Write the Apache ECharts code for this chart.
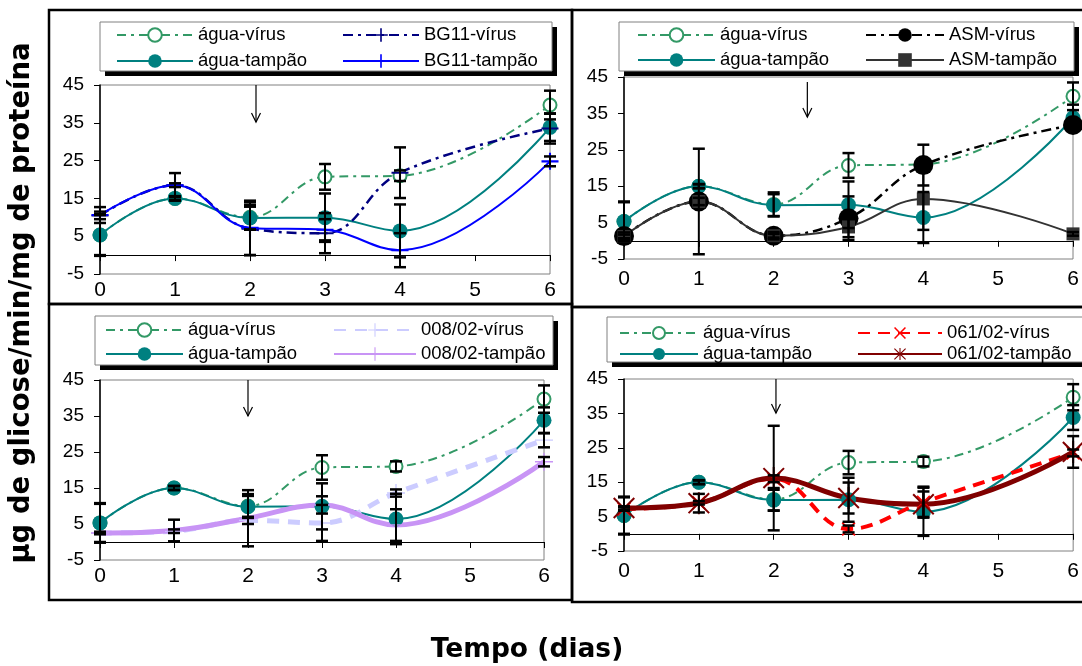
<!DOCTYPE html>
<html>
<head>
<meta charset="utf-8">
<script src="https://cdn.jsdelivr.net/npm/echarts@6/dist/echarts.min.js"></script>
<style>
  html, body { margin: 0; padding: 0; background: #fff; }
  #chart { width: 1082px; height: 666px; }
</style>
</head>
<body>
<div id="chart"></div>
<script>
// Tempo (dias) and y tick values
const dias = [0, 1, 2, 3, 4, 6];
const yTicks = [-5, 5, 15, 25, 35, 45];

// Controls (água), shared by the four panels
const aguaVirus     = [5.3, 15.0, 10.0, 20.7, 21.0, 39.7];
const aguaVirusErr  = [5.3, 0.5, 3.3, 3.4, 1.4, 3.8];
const aguaTampao    = [5.3, 15.0, 9.8, 9.9, 6.4, 33.8];
const aguaTampaoErr = [5.5, 0.6, 3.0, 6.4, 7.0, 3.6];

// BG11
const bg11Virus     = [10.5, 18.5, 7.0, 5.8, 21.8, 33.5];
const bg11VirusErr  = [1.0, 0.5, 7.0, 5.3, 6.7, 4.0];
const bg11Tampao    = [10.6, 18.5, 7.2, 6.7, 1.3, 24.8];
const bg11TampaoErr = [2.1, 3.2, 7.2, 2.8, 4.5, 1.3];

// ASM
const asmVirus      = [1.3, 10.8, 1.4, 6.2, 20.8, 31.8];
const asmVirusErr   = [1.0, 14.5, 1.0, 6.0, 5.6, 1.0];
const asmTampao     = [1.2, 10.8, 1.4, 3.8, 11.5, 1.9];
const asmTampaoErr  = [0.5, 1.0, 0.5, 2.8, 8.5, 0.5];

// 008/02
const c008Virus     = [2.5, 3.0, 6.0, 5.3, 13.6, 28.3];
const c008VirusErr  = [0.3, 0.5, 1.0, 5.0, 1.0, 2.0];
const c008Tampao    = [2.5, 3.2, 6.6, 10.3, 4.7, 22.3];
const c008TampaoErr = [0.3, 3.0, 7.8, 2.4, 4.4, 1.3];

// 061/02
const c061Virus     = [7.2, 9.0, 16.0, 1.4, 9.2, 23.5];
const c061VirusErr  = [0.5, 0.5, 1.0, 1.0, 4.5, 1.0];
const c061Tampao    = [7.5, 8.9, 16.2, 10.4, 8.6, 23.8];
const c061TampaoErr = [0.5, 2.7, 15.2, 4.5, 3.7, 4.6];

// Inoculation arrow per panel: [day, from, to]
const setas = [[2.08, 45, 35.2], [2.45, 43.6, 34.0], [2.0, 45, 35.0], [2.03, 45, 35.1]];

const FONT = '"Liberation Sans", Arial, sans-serif';
const PLUS = 'path://M8.8,0H11.2V8.8H20V11.2H11.2V20H8.8V11.2H0V8.8H8.8Z';
const PLUS_THIN = 'path://M9.2,0H10.8V9.2H20V10.8H10.8V20H9.2V10.8H0V9.2H9.2Z';
const CROSS = 'path://M0,1.8L1.8,0L10,8.2L18.2,0L20,1.8L11.8,10L20,18.2L18.2,20L10,11.8L1.8,20L0,18.2L8.2,10Z';
const STAR = 'path://M9.1,0H10.9V8.1L18.7,0.3L20,1.6L11.6,10L20,18.4L18.7,19.7L10.9,11.9V20H9.1V11.9L1.3,19.7L0,18.4L8.4,10L0,1.6L1.3,0.3L9.1,8.1Z';

const pts = vals => dias.map((d, i) => [d, vals[i]]);
const errs = (vals, e) => dias.map((d, i) => [d, vals[i] - e[i], vals[i] + e[i]]);

const styles = {
  'água-vírus':    { color: '#339966', width: 2,   type: [9, 5, 3, 5], symbol: 'emptyCircle', size: 13 },
  'água-tampão':   { color: '#008080', width: 2,   type: 'solid', symbol: 'circle', size: 15 },
  'BG11-vírus':    { color: '#000080', width: 2.5, type: [10, 5, 3, 5], symbol: PLUS, size: 17 },
  'BG11-tampão':   { color: '#0000ff', width: 2,   type: 'solid', symbol: PLUS, size: 17 },
  'ASM-vírus':     { color: '#000000', width: 2.5, type: [10, 5, 3, 5], symbol: 'circle', size: 20 },
  'ASM-tampão':    { color: '#333333', width: 2,   type: 'solid', symbol: 'rect', size: 13 },
  '008/02-vírus':  { color: '#ccccff', width: 5,   type: [12, 9], symbol: PLUS_THIN, size: 18 },
  '008/02-tampão': { color: '#c894f5', width: 5,   type: 'solid', symbol: PLUS_THIN, size: 18 },
  '061/02-vírus':  { color: '#ff0000', width: 4,   type: [12, 8], symbol: CROSS, size: 14 },
  '061/02-tampão': { color: '#800000', width: 5,   type: 'solid', symbol: STAR, size: 22 }
};

const panels = [
  { grid: { left: 100, top: 85, width: 450, height: 189 }, margin: 5.5,
    box: [100, 22, 452, 49],
    legends: [{ left: 116, top: 25.5, w: 76 }, { left: 342, top: 25.5, w: 76 }], gap: 7, ih: 17,
    series: [['água-vírus', aguaVirus, aguaVirusErr], ['água-tampão', aguaTampao, aguaTampaoErr],
             ['BG11-vírus', bg11Virus, bg11VirusErr], ['BG11-tampão', bg11Tampao, bg11TampaoErr]] },
  { grid: { left: 624, top: 77, width: 449, height: 182 }, margin: 9.7,
    box: [619, 22, 455, 49],
    legends: [{ left: 637, top: 25.5, w: 77 }, { left: 865, top: 25.5, w: 78 }], gap: 6, ih: 17,
    series: [['água-vírus', aguaVirus, aguaVirusErr], ['água-tampão', aguaTampao, aguaTampaoErr],
             ['ASM-vírus', asmVirus, asmVirusErr], ['ASM-tampão', asmTampao, asmTampaoErr]] },
  { grid: { left: 100, top: 380, width: 444, height: 180 }, margin: 5.5,
    box: [95, 316, 458, 49],
    legends: [{ left: 105, top: 320.5, w: 77 }, { left: 333, top: 320.5, w: 82 }], gap: 5, ih: 17,
    series: [['água-vírus', aguaVirus, aguaVirusErr], ['água-tampão', aguaTampao, aguaTampaoErr],
             ['008/02-vírus', c008Virus, c008VirusErr], ['008/02-tampão', c008Tampao, c008TampaoErr]] },
  { grid: { left: 624, top: 379, width: 451, height: 172 }, margin: 9.7,
    box: [607, 317, 480, 45],
    legends: [{ left: 619, top: 323.5, w: 78 }, { left: 857, top: 323.5, w: 84 }], gap: 2, ih: 15,
    series: [['água-vírus', aguaVirus, aguaVirusErr], ['água-tampão', aguaTampao, aguaTampaoErr],
             ['061/02-vírus', c061Virus, c061VirusErr], ['061/02-tampão', c061Tampao, c061TampaoErr]] }
];

function renderErr(params, api) {
  const x = api.value(0);
  const top = api.coord([x, api.value(2)]);
  const bot = api.coord([x, api.value(1)]);
  const w = 6;
  return {
    type: 'group',
    children: [
      { type: 'line', shape: { x1: top[0], y1: top[1], x2: bot[0], y2: bot[1] }, style: { stroke: '#000', lineWidth: 2 } },
      { type: 'line', shape: { x1: top[0] - w, y1: top[1], x2: top[0] + w, y2: top[1] }, style: { stroke: '#000', lineWidth: 2.5 } },
      { type: 'line', shape: { x1: bot[0] - w, y1: bot[1], x2: bot[0] + w, y2: bot[1] }, style: { stroke: '#000', lineWidth: 2.5 } }
    ]
  };
}

function renderArrow(params, api) {
  const x = api.value(0);
  const a = api.coord([x, api.value(1)]);
  const b = api.coord([x, api.value(2)]);
  const st = { stroke: '#000', lineWidth: 1.2, fill: null };
  return {
    type: 'group',
    children: [
      { type: 'line', shape: { x1: a[0], y1: a[1], x2: b[0], y2: b[1] }, style: st },
      { type: 'polyline', shape: { points: [[b[0] - 4.5, b[1] - 9], [b[0], b[1]], [b[0] + 4.5, b[1] - 9]] }, style: st }
    ]
  };
}

const grid = [], xAxis = [], yAxis = [], series = [], legend = [], graphic = [];

panels.forEach((p, k) => {
  grid.push(Object.assign({ show: true, borderColor: '#808080', borderWidth: 1, backgroundColor: '#fff' }, p.grid));
  xAxis.push({
    type: 'value', gridIndex: k, min: 0, max: 6, interval: 1,
    axisLine: { onZero: true, lineStyle: { color: '#000', width: 1 } },
    axisTick: { show: true, length: 6, lineStyle: { color: '#000', width: 1 } },
    axisLabel: { margin: p.margin, fontSize: 21, fontFamily: FONT, color: '#000' },
    splitLine: { show: false }
  });
  yAxis.push({
    type: 'value', gridIndex: k, min: -5, max: 45,
    axisLine: { show: true, lineStyle: { color: '#000', width: 1.5 } },
    axisTick: { show: true, length: 6, customValues: yTicks, lineStyle: { color: '#000', width: 1 } },
    axisLabel: { margin: 16, fontSize: 19, fontFamily: FONT, color: '#000', customValues: yTicks },
    splitLine: { show: false }
  });

  const allErr = [];
  p.series.forEach(([name, vals, e]) => {
    const s = styles[name];
    series.push({
      type: 'line', name, xAxisIndex: k, yAxisIndex: k,
      data: pts(vals), smooth: 0.4, smoothMonotone: null,
      symbol: s.symbol, symbolSize: s.size, showAllSymbol: true,
      lineStyle: { color: s.color, width: s.width, type: s.type },
      itemStyle: s.symbol === 'emptyCircle'
        ? { color: s.color, borderColor: s.color, borderWidth: 2 }
        : { color: s.color, borderColor: s.symbol === 'circle' && name === 'ASM-vírus' ? '#222' : s.color, borderWidth: 0 },
      emphasis: { disabled: true }, animation: false, z: 3
    });
    allErr.push(...errs(vals, e));
  });
  series.push({
    type: 'custom', name: 'erro-' + k, xAxisIndex: k, yAxisIndex: k,
    data: allErr, renderItem: renderErr, encode: { x: 0, y: [1, 2] },
    animation: false, silent: true, z: 4
  });
  series.push({
    type: 'custom', name: 'seta-' + k, xAxisIndex: k, yAxisIndex: k,
    data: [setas[k]], renderItem: renderArrow, encode: { x: 0, y: [1, 2] },
    animation: false, silent: true, z: 4
  });

  const names = p.series.map(s => s[0]);
  [[names[0], names[1]], [names[2], names[3]]].forEach((pair, c) => {
    legend.push({
      orient: 'vertical', left: p.legends[c].left, top: p.legends[c].top, padding: 0,
      itemWidth: p.legends[c].w, itemHeight: p.ih, itemGap: p.gap, selectedMode: false,
      data: pair, z: 20,
      textStyle: { fontSize: 18.5, fontFamily: FONT, color: '#000', lineHeight: p.ih }
    });
  });

  const [bx, by, bw, bh] = p.box;
  graphic.push({ type: 'rect', z: 10, shape: { x: bx + 5, y: by + 5, width: bw, height: bh }, style: { fill: '#000' } });
  graphic.push({ type: 'rect', z: 11, shape: { x: bx, y: by, width: bw, height: bh }, style: { fill: '#fff', stroke: '#808080', lineWidth: 1 } });
});

// Panel frames
[[49, 10, 523, 294], [572, 10, 530, 297], [49, 304, 523, 296], [572, 307, 530, 295]].forEach(r => {
  graphic.push({ type: 'rect', z: 30, shape: { x: r[0], y: r[1], width: r[2], height: r[3] },
    style: { fill: null, stroke: '#000', lineWidth: 2.5 } });
});

// Axis titles
graphic.push({ type: 'text', z: 30, x: 22, y: 303, rotation: Math.PI / 2,
  style: { text: 'µg de glicose/min/mg de proteína', font: 'bold 27.5px "DejaVu Sans", sans-serif',
           textAlign: 'center', textVerticalAlign: 'middle', fill: '#000' } });
graphic.push({ type: 'text', z: 30, x: 527, y: 650,
  style: { text: 'Tempo (dias)', font: 'bold 26.5px "DejaVu Sans", sans-serif',
           textAlign: 'center', textVerticalAlign: 'middle', fill: '#000' } });

const chart = echarts.init(document.getElementById('chart'));
chart.setOption({
  backgroundColor: '#fff',
  animation: false,
  grid, xAxis, yAxis, series, legend, graphic
});
</script>
</body>
</html>
